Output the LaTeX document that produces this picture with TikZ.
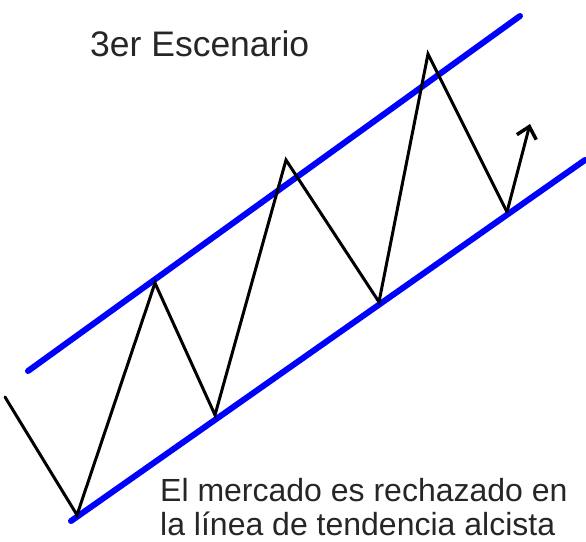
\documentclass[tikz,border=0pt]{standalone}
\usepackage{fontspec}
\setmainfont{Liberation Sans}
\usetikzlibrary{arrows.meta}
\begin{document}
\begin{tikzpicture}[x=1pt,y=-1pt,
  trend/.style={draw=blue,line width=6pt,line cap=round},
  price/.style={draw=black,line width=3pt,line join=miter,line cap=round},
  lbl/.style={anchor=base west,inner sep=0pt,text=black!85}]
\useasboundingbox (0,0) rectangle (586,541);
\coordinate (u1) at (28,371);
\coordinate (u2) at (520,16);
\coordinate (l1) at (71,521);
\coordinate (l2) at (585,160);
\draw[trend] (u1) -- (u2);
\draw[trend] (l1) -- (l2);
\coordinate (p0) at (5,397);
\coordinate (p1) at (77,515);
\coordinate (p2) at (155,283);
\coordinate (p3) at (215,415);
\coordinate (p4) at (286,160);
\coordinate (p5) at (379,302);
\coordinate (p6) at (428,54);
\coordinate (p7) at (507,212);
\coordinate (p8) at (530,124);
\draw[price] (p0) -- (p1) -- (p2) -- (p3) -- (p4) -- (p5) -- (p6) -- (p7);
\draw[price,-{Straight Barb[length=11pt,width=20pt,line width=3.5pt]}] (p7) -- (p8);
\node[lbl,font=\fontsize{35.5}{42}\selectfont] (t1) at (90,56) {3er Escenario};
\node[lbl,font=\fontsize{32}{38}\selectfont] (t2) at (160,501) {El mercado es rechazado en};
\node[lbl,font=\fontsize{32}{38}\selectfont] (t3) at (160,535) {la línea de tendencia alcista};
\end{tikzpicture}
\end{document}
